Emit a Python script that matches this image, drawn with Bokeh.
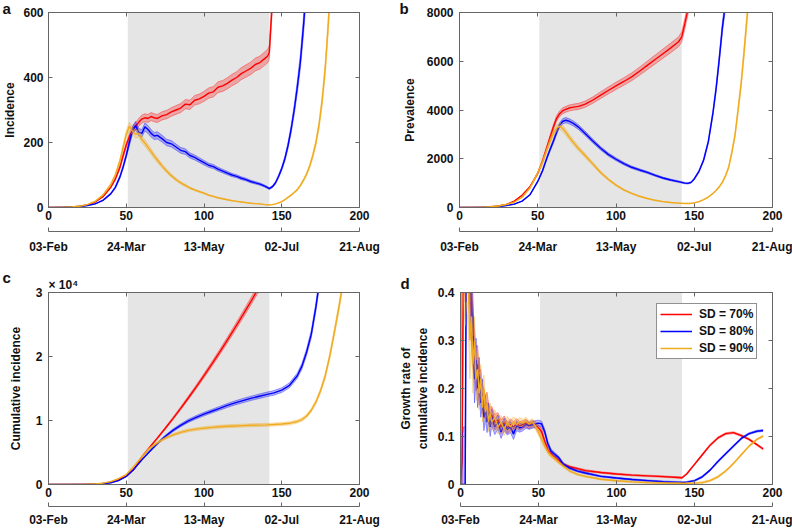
from bokeh.plotting import figure
from bokeh.models import (LinearAxis, FixedTicker, BoxAnnotation, Title,
                          Legend, LegendItem, Range1d)
from bokeh.layouts import column, row
from bokeh.embed import file_html
from bokeh.resources import INLINE

# ---------------- data ----------------
series_labels = ["SD = 70%", "SD = 80%", "SD = 90%"]
x_ticks = [0, 50, 100, 150, 200]
date_labels = ["03-Feb", "24-Mar", "13-May", "02-Jul", "21-Aug"]
sd_start, sd_end = 51, 142

# (a) incidence
days_a = [0, 5, 10, 15, 20, 25, 30, 35, 40, 43, 46, 48, 50, 52, 54, 56, 58, 60,
          62, 64, 66, 68, 70, 73, 76, 79, 82, 85, 88, 91, 94, 97, 100, 103, 106,
          109, 112, 115, 118, 121, 124, 127, 130, 133, 136, 139, 141, 142, 144,
          146, 148, 150, 152, 154, 156, 158, 160, 162, 164, 166, 168, 170, 172,
          174, 176, 178, 180, 182]
inc_70 = [0, 0.5, 1, 2, 4, 8, 17, 33, 62, 88, 125, 160, 192, 218, 238, 250, 262, 272,
          276, 274, 280, 276, 274, 282, 286, 294, 300, 306, 318, 316, 330, 334, 342,
          352, 356, 370, 374, 382, 392, 400, 412, 420, 428, 440, 446, 458, 466, 478,
          640, 800, 1000, 1250, 1550, 1900, 2300, 2800, 3400, 4100, 4900, 5800, 6900,
          8200, 9700, 11400, 13400, 15700, 18300, 21300]
inc_80 = [0, 0.3, 0.7, 1.5, 3, 6, 11, 22, 42, 62, 95, 125, 160, 200, 238, 252, 232, 228,
          248, 240, 228, 220, 222, 212, 200, 196, 186, 176, 172, 160, 154, 146, 138,
          130, 126, 118, 112, 106, 100, 96, 90, 86, 80, 76, 72, 66, 61, 58,
          64, 76, 96, 120, 150, 190, 240, 300, 370, 450, 560, 690, 850, 1050, 1300,
          1600, 2000, 2500, 3000, 3600]
inc_90 = [0, 0.5, 1, 2, 4, 9, 19, 38, 70, 100, 145, 185, 225, 250, 235, 225, 228, 210,
          198, 185, 172, 158, 146, 128, 112, 98, 86, 76, 68, 60, 54, 49, 44,
          38, 34, 30, 27, 24, 21, 19, 17, 15, 13, 12, 11, 9, 8, 8,
          9, 11, 14, 18, 24, 31, 38, 46, 55, 68, 84, 103, 128, 160, 200, 255, 330,
          430, 570, 750]
band_rel_a = [0.045, 0.05, 0.05]

# (b) prevalence
days_b = [0, 5, 10, 15, 20, 25, 30, 35, 40, 45, 50, 53, 56, 58, 60, 62, 64, 66, 68, 70,
          73, 76, 80, 85, 90, 95, 100, 105, 110, 115, 120, 125, 130, 135, 140, 142,
          144, 146, 148, 150, 153, 156, 159, 162, 164, 166, 168, 170, 172, 174, 176,
          178, 180, 182, 184, 186]
prev_70 = [0, 2, 5, 12, 28, 60, 130, 260, 500, 850, 1400, 1900, 2500, 2900, 3300,
           3650, 3850, 3970, 4030, 4080, 4120, 4150, 4230, 4400, 4600, 4800, 4990,
           5170, 5360, 5590, 5830, 6070, 6310, 6550, 6800, 7000, 7550, 8150, 8800,
           9500, 10600, 11800, 13200, 14800, 16000, 17200, 18500, 20000, 21500,
           23000, 25000, 27000, 29000, 31000, 33000, 35000]
prev_80 = [0, 1, 3, 8, 18, 38, 80, 140, 260, 520, 1070, 1500, 2060, 2400, 2720,
           3080, 3380, 3540, 3580, 3540, 3440, 3300, 3060, 2740, 2440, 2180, 1980,
           1800, 1650, 1540, 1440, 1320, 1210, 1130, 1060, 1030, 1000, 990, 1030,
           1170, 1480, 1950, 2700, 3900, 4900, 6100, 7400, 8400, 9800, 11500,
           13500, 15500, 18000, 21000, 24000, 27000]
prev_90 = [0, 2, 5, 12, 28, 60, 125, 215, 420, 800, 1420, 1850, 2400, 2750, 3050,
           3250, 3340, 3240, 3080, 2900, 2650, 2420, 2150, 1800, 1450, 1160, 920,
           720, 580, 460, 370, 295, 240, 205, 180, 172, 166, 165, 172, 190, 240,
           320, 430, 580, 700, 850, 1040, 1300, 1650, 2250, 2950, 4000, 5100, 6500,
           8000, 9700]
band_rel_b = [0.03, 0.03, 0.04]

# (c) cumulative incidence
days_c = [0, 10, 20, 25, 30, 35, 40, 45, 50, 55, 60, 65, 70, 75, 80, 85, 90, 95, 100,
          105, 110, 115, 120, 125, 130, 135, 140, 145, 150, 155, 160, 163, 166, 169,
          172, 175, 178, 181, 184, 187, 190, 193]
cum_70 = [0, 5, 20, 40, 90, 180, 380, 750, 1300, 2400, 4300, 5800, 7250, 8750, 10300,
          11900, 13550, 15250, 17000, 18800, 20650, 22550, 24500, 26500, 28550, 30650,
          32800, 36000, 40000, 46000, 53000, 58000, 64000, 71000, 79000, 88000, 98000,
          110000, 123000, 138000, 155000, 174000]
cum_80 = [0, 3, 12, 25, 55, 120, 270, 600, 1250, 2400, 3850, 5150, 6400, 7500, 8450,
          9250, 9950, 10500, 11000, 11450, 11900, 12350, 12750, 13100, 13450, 13750,
          14050, 14320, 14750, 15500, 17000, 18500, 20700, 23500, 27800, 33000, 40000,
          48000, 58000, 70000, 84000, 100000]
cum_90 = [0, 5, 20, 45, 100, 210, 450, 900, 1550, 2850, 4300, 5650, 6550, 7200, 7750,
          8150, 8450, 8650, 8800, 8920, 9030, 9100, 9150, 9200, 9250, 9280, 9310, 9370,
          9450, 9560, 9850, 10150, 10700, 11600, 12900, 14700, 17000, 20200, 24000,
          28000, 32500, 38000]
band_rel_c = [0.02, 0.025, 0.025]

# (d) growth rate of cumulative incidence
days_d = [0, 1, 2, 3, 4, 5, 6, 7, 8, 9, 10, 11, 12, 13, 14, 15, 16, 17, 18, 19, 20,
          22, 24, 26, 28, 30, 32, 34, 36, 38, 40, 42, 44, 46, 48,
          50, 52, 54, 56, 58, 60, 63, 66, 70, 75, 80,
          90, 100, 110, 120, 130, 140, 142, 145, 150, 155, 160,
          165, 170, 175, 180, 185, 190, 194]
gr_70 = [0, 0.05, 0.55, 0.5, 0.6, 0.5, 0.45, 0.36, 0.3, 0.27, 0.24, 0.25, 0.2, 0.21,
         0.18, 0.17, 0.16, 0.17, 0.15, 0.14, 0.145,
         0.13, 0.135, 0.12, 0.13, 0.118, 0.125, 0.12, 0.127, 0.122, 0.125, 0.128,
         0.123, 0.127, 0.124,
         0.118, 0.11, 0.09, 0.072, 0.065, 0.058, 0.05, 0.042, 0.037, 0.033, 0.029,
         0.025, 0.022, 0.0195, 0.018, 0.0165, 0.0145, 0.014, 0.022, 0.042, 0.062, 0.082,
         0.097, 0.106, 0.108, 0.102, 0.094, 0.083, 0.074]
gr_80 = [0, 0, 0, 0, 0.7, 0.55, 0.45, 0.38, 0.33, 0.22, 0.26, 0.2, 0.23, 0.17, 0.19,
         0.14, 0.16, 0.13, 0.15, 0.12, 0.14,
         0.12, 0.13, 0.11, 0.125, 0.115, 0.12, 0.105, 0.122, 0.118, 0.12, 0.125,
         0.122, 0.124, 0.126,
         0.128, 0.126, 0.11, 0.085, 0.07, 0.064, 0.056, 0.042, 0.034, 0.028, 0.024,
         0.017, 0.0135, 0.0103, 0.008, 0.0058, 0.0045, 0.0043, 0.005, 0.008, 0.016, 0.03,
         0.048, 0.064, 0.08, 0.096, 0.106, 0.111, 0.1125]
gr_90 = [0, 0.6, 0.5, 0.45, 0.5, 0.42, 0.3, 0.35, 0.25, 0.3, 0.22, 0.24, 0.19, 0.22,
         0.16, 0.2, 0.15, 0.17, 0.13, 0.15, 0.13,
         0.14, 0.12, 0.13, 0.115, 0.13, 0.12, 0.13, 0.125, 0.13, 0.128, 0.132,
         0.126, 0.13, 0.122,
         0.108, 0.095, 0.08, 0.068, 0.06, 0.055, 0.046, 0.038, 0.028, 0.021, 0.017,
         0.011, 0.0078, 0.0055, 0.004, 0.003, 0.0025, 0.0024, 0.0025, 0.0028, 0.004, 0.008,
         0.016, 0.028, 0.044, 0.062, 0.08, 0.094, 0.101]
gr_spread = [0, 0.1, 0.12, 0.12, 0.12, 0.1, 0.08, 0.07, 0.06, 0.05, 0.045, 0.04, 0.035,
             0.03, 0.03, 0.028, 0.025, 0.022, 0.02, 0.02, 0.018,
             0.016, 0.015, 0.014, 0.013, 0.012, 0.012, 0.011, 0.01, 0.009, 0.008, 0.008,
             0.007, 0.007, 0.007,
             0.006, 0.006, 0.005, 0.005, 0.004, 0.004, 0.003, 0.003, 0.002, 0.002, 0.002,
             0.0015, 0.0015, 0.0015, 0.0015, 0.0015, 0.0015, 0.0015, 0.0015, 0.0015,
             0.002, 0.002,
             0.002, 0.002, 0.002, 0.002, 0.002, 0.002, 0.002]

# ---------------- styling ----------------
FONT = "Liberation Sans"
AXC = "#666666"
TXT = "#111111"
COLORS = ["#ff0000", "#0000ff", "#f0aa1e"]
SHADE = "#e5e5e5"


def style_axis(ax, standoff):
    ax.axis_line_color = AXC
    ax.axis_line_width = 1
    ax.major_tick_line_color = AXC
    ax.major_tick_in = 4
    ax.major_tick_out = 0
    ax.minor_tick_line_color = None
    ax.minor_tick_in = 0
    ax.minor_tick_out = 0
    ax.major_label_text_font = FONT
    ax.major_label_text_font_style = "bold"
    ax.major_label_text_font_size = "12px"
    ax.major_label_text_color = TXT
    ax.major_label_standoff = standoff
    ax.axis_label_text_font = FONT
    ax.axis_label_text_font_style = "bold"
    ax.axis_label_text_font_size = "12px"
    ax.axis_label_text_color = TXT


def title(text, size, offset, standoff):
    return Title(text=text, align="left", offset=offset, standoff=standoff,
                 text_font=FONT, text_font_style="bold", text_font_size=size,
                 text_color=TXT, vertical_align="bottom")


def panel(W, H, bl, br, bt, bb, ylim, yticks, ylabels, ylabel, ytick_so, ylabel_so,
          spacer_so, date_so):
    p = figure(width=W, height=H, x_range=Range1d(0, 200), y_range=Range1d(*ylim),
               output_backend="svg", toolbar_location=None,
               min_border_left=bl, min_border_right=br, min_border_top=bt,
               min_border_bottom=bb)
    p.xgrid.visible = False
    p.ygrid.visible = False
    p.outline_line_color = AXC
    p.outline_line_width = 1
    p.add_layout(BoxAnnotation(left=sd_start, right=sd_end, fill_color=SHADE,
                               fill_alpha=1.0, line_color=None, level="underlay"))
    xa = p.xaxis[0]
    style_axis(xa, 3)
    xa.ticker = FixedTicker(ticks=x_ticks)
    xa.major_label_overrides = {t: str(t) for t in x_ticks}
    xa.axis_label = "."
    xa.axis_label_text_alpha = 0
    xa.axis_label_text_font_size = "4px"
    xa.axis_label_standoff = spacer_so

    ya = p.yaxis[0]
    style_axis(ya, ytick_so)
    ya.ticker = FixedTicker(ticks=yticks)
    ya.major_label_overrides = dict(zip(yticks, ylabels))
    ya.axis_label = ylabel
    ya.axis_label_standoff = ylabel_so

    da = LinearAxis(ticker=FixedTicker(ticks=x_ticks),
                    major_label_overrides=dict(zip(x_ticks, date_labels)))
    style_axis(da, date_so)
    p.add_layout(da, "below")

    for side, ticks in (("right", yticks), ("above", x_ticks)):
        ax = LinearAxis(ticker=FixedTicker(ticks=ticks),
                        major_label_overrides={t: "" for t in ticks})
        style_axis(ax, 0)
        ax.major_label_text_font_size = "0px"
        p.add_layout(ax, side)
    return p


def draw(p, days, series, lows, highs):
    rs = []
    for vals, lo, hi, c in zip(series, lows, highs, COLORS):
        p.varea(x=days, y1=lo, y2=hi, fill_color=c, fill_alpha=0.28)
        p.line(days, lo, line_color=c, line_alpha=0.45, line_width=0.8)
        p.line(days, hi, line_color=c, line_alpha=0.45, line_width=0.8)
        rs.append(p.line(days, vals, line_color=c, line_width=1.4))
    return rs


def rel_band(series, rels):
    lows = [[v * (1 - r) for v in s] for s, r in zip(series, rels)]
    highs = [[v * (1 + r) for v in s] for s, r in zip(series, rels)]
    return lows, highs


W1, W2 = 396, 396
H1, H2 = 260, 269

# (a)
pa = panel(W1, H1, 48, 37, 12, 53, (0, 600), [0, 200, 400, 600],
           ["0", "200", "400", "600"], "Incidence", 5, 3, 3, 8)
sa = [inc_70, inc_80, inc_90]
draw(pa, days_a, sa, *rel_band(sa, band_rel_a))
pa.add_layout(title("a", "15px", -46, -8), "above")

# (b)
pb = panel(W2, H1, 63, 20, 12, 53, (0, 8000), [0, 2000, 4000, 6000, 8000],
           ["0", "2000", "4000", "6000", "8000"], "Prevalence", 6, 7, 3, 8)
sb = [prev_70, prev_80, prev_90]
draw(pb, days_b, sb, *rel_band(sb, band_rel_b))
pb.add_layout(title("b", "15px", -60, -8), "above")

# (c)
pc = panel(W1, H2, 48, 37, 32, 44, (0, 30000), [0, 10000, 20000, 30000],
           ["0", "1", "2", "3"], "Cumulative incidence", 6, 10, 1, 6)
sc = [cum_70, cum_80, cum_90]
draw(pc, days_c, sc, *rel_band(sc, band_rel_c))
pc.add_layout(title("× 10⁴", "12px", 0, 2), "above")
pc.add_layout(title("c", "15px", -46, -23), "above")

# (d)
pd_ = panel(W2, H2, 63, 20, 32, 44, (0, 0.4), [0, 0.1, 0.2, 0.3, 0.4],
            ["0", "0.1", "0.2", "0.3", "0.4"],
            "Growth rate of\ncumulative incidence", 6, 5, 1, 6)
sd = [gr_70, gr_80, gr_90]
lows_d = [[v - e for v, e in zip(s, gr_spread)] for s in sd]
highs_d = [[v + e for v, e in zip(s, gr_spread)] for s in sd]
rd = draw(pd_, days_d, sd, lows_d, highs_d)
pd_.add_layout(title("d", "15px", -60, 2), "above")
leg = Legend(items=[LegendItem(label=l, renderers=[r]) for l, r in zip(series_labels, rd)],
             location=(196, 125))
leg.label_text_font = FONT
leg.label_text_font_style = "bold"
leg.label_text_font_size = "12px"
leg.label_text_color = TXT
leg.glyph_width = 32
leg.glyph_height = 14
leg.label_height = 14
leg.spacing = 3
leg.padding = 3
leg.margin = 0
leg.label_standoff = 7
leg.border_line_color = "#222222"
leg.border_line_width = 0.8
leg.background_fill_color = "white"
leg.background_fill_alpha = 1.0
pd_.add_layout(leg)

layout = column(row(pa, pb), row(pc, pd_))
open("out.html", "w").write(file_html(layout, INLINE))
